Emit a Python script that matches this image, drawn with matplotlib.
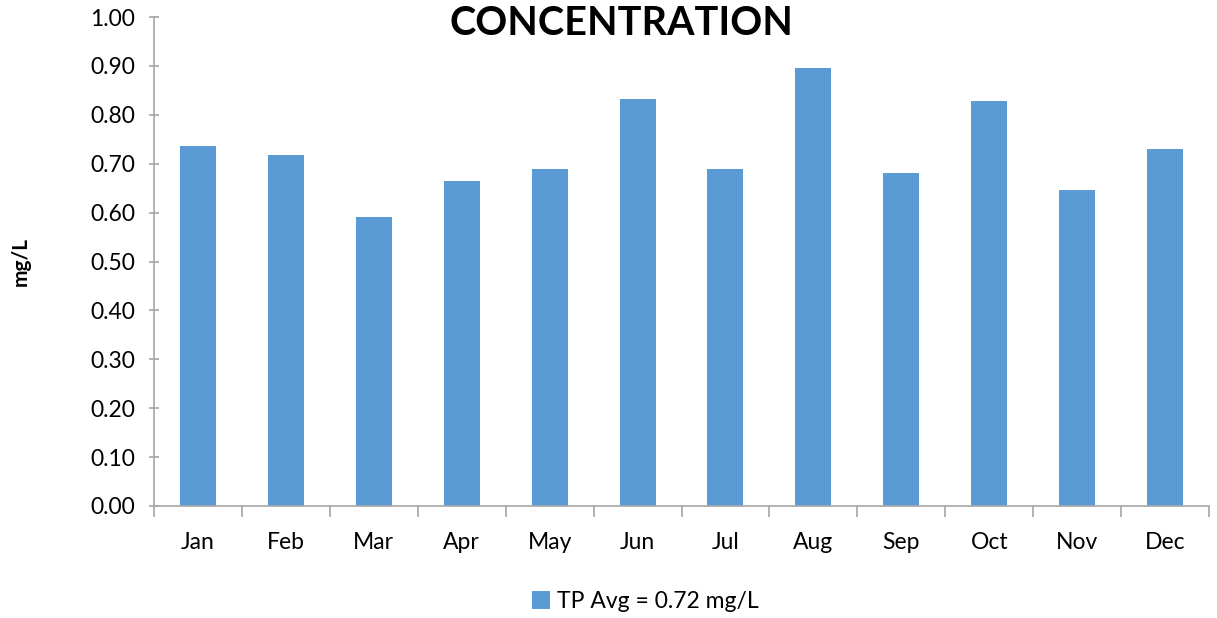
import numpy as np
import matplotlib.pyplot as plt

# Monthly total phosphorus averages (mg/L)
months = ['Jan', 'Feb', 'Mar', 'Apr', 'May', 'Jun',
          'Jul', 'Aug', 'Sep', 'Oct', 'Nov', 'Dec']
tp_avg = [0.736, 0.718, 0.591, 0.665, 0.689, 0.832,
          0.689, 0.896, 0.681, 0.828, 0.646, 0.730]
series_label = 'TP Avg = 0.72 mg/L'
y_ticks = np.arange(0, 1.01, 0.1)

plt.rcParams['font.family'] = ['Lato', 'DejaVu Sans']

bar_color = '#5B9BD5'
axis_color = '#A6A6A6'

fig = plt.figure(figsize=(12.17, 6.18), dpi=100)
ax = fig.add_axes([154 / 1217, 112 / 618, 1055 / 1217, 489 / 618])

x = np.arange(len(months))
ax.bar(x, tp_avg, width=0.41, color=bar_color, label=series_label, zorder=2)

ax.set_xlim(-0.5, len(months) - 0.5)
ax.set_ylim(0, 1.0)

# category labels at bar centres, tick marks on the boundaries between them
ax.set_xticks(x)
ax.set_xticklabels(months, fontsize=16.5)
ax.set_xticks(np.arange(-0.5, len(months)), minor=True)
ax.tick_params(axis='x', which='major', length=0, pad=18.5)
ax.tick_params(axis='x', which='minor', length=8, width=1.2,
               color=axis_color, direction='out')

ax.set_yticks(y_ticks)
ax.set_yticklabels(['%.2f' % v for v in y_ticks], fontsize=16.5)
ax.tick_params(axis='y', length=7, width=1.2, color=axis_color,
               direction='inout', pad=10)

for side in ['top', 'right']:
    ax.spines[side].set_visible(False)
for side in ['left', 'bottom']:
    ax.spines[side].set_color(axis_color)
    ax.spines[side].set_linewidth(1.2)

ax.set_ylabel('mg/L', fontsize=15, fontweight='bold')
ax.yaxis.set_label_coords(-0.117, 0.5)

fig.text(0.511, 0.962, 'CONCENTRATION', ha='center', va='center',
         fontsize=28.5, fontweight='bold')

fig.legend(loc='center', bbox_to_anchor=(0.53, 0.027), frameon=False,
           fontsize=16.5, handlelength=0.8, handleheight=0.8, handletextpad=0.3)

fig.savefig('out.png', dpi=100)
